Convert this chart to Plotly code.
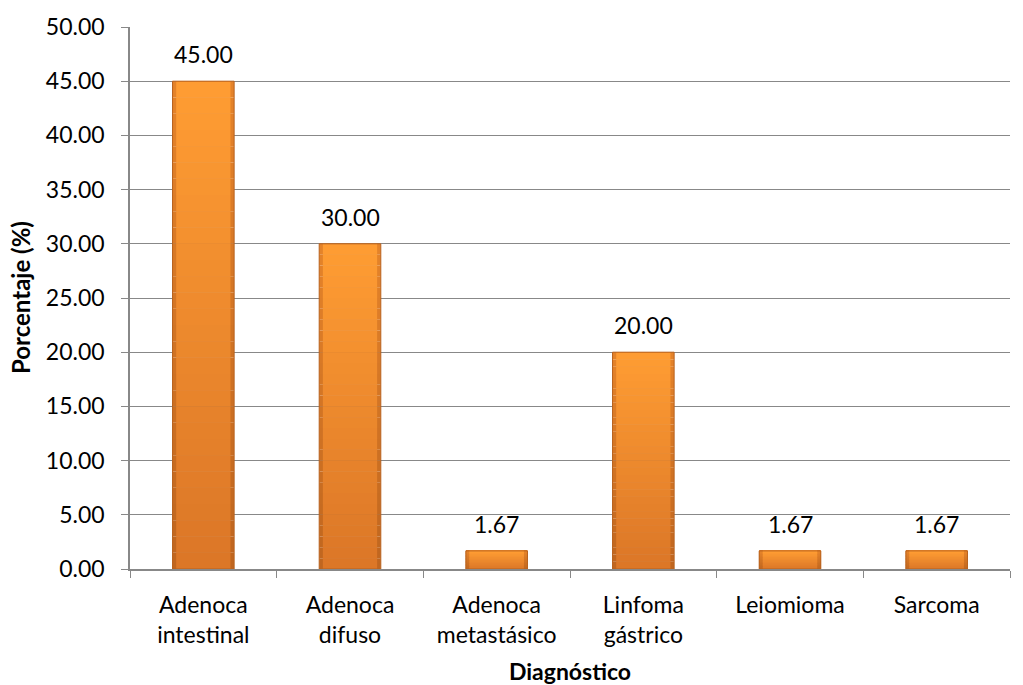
import plotly.graph_objects as go

categories = ["Adenoca<br>intestinal", "Adenoca<br>difuso", "Adenoca<br>metastásico",
              "Linfoma<br>gástrico", "Leiomioma", "Sarcoma"]
porcentajes = [45.00, 30.00, 1.67, 20.00, 1.67, 1.67]
y_ticks = [0, 5, 10, 15, 20, 25, 30, 35, 40, 45, 50]

FONT = "Lato"
BAR_W = 0.42
STEPS = 30


def blend(c1, c2, t):
    a = [int(c1[i:i + 2], 16) for i in (1, 3, 5)]
    b = [int(c2[i:i + 2], 16) for i in (1, 3, 5)]
    return "#" + "".join(f"{round(x + (y - x) * t):02X}" for x, y in zip(a, b))


fig = go.Figure()

# vertical shading: each bar is filled in thin slices, light at the top, darker at the base
for layer, width, top_c, bot_c in [("edge", BAR_W, "#E5842A", "#BF651F"),
                                   ("face", BAR_W - 0.05, "#FF9D33", "#DB7627")]:
    for k in range(STEPS):
        t = (k + 0.5) / STEPS
        fig.add_trace(go.Bar(
            x=categories,
            y=[v / STEPS for v in porcentajes],
            base=[v * k / STEPS for v in porcentajes],
            width=width,
            marker=dict(color=blend(bot_c, top_c, t), line=dict(width=0)),
            showlegend=False, hoverinfo="skip",
        ))

# outline and hover
fig.add_trace(go.Bar(
    x=categories, y=porcentajes, width=BAR_W,
    marker=dict(color="rgba(0,0,0,0)", line=dict(color="#B8621E", width=1)),
    showlegend=False, hovertemplate="%{x}: %{y:.2f}<extra></extra>",
))

for c, v in zip(categories, porcentajes):
    fig.add_annotation(x=c, y=v, text=f"{v:.2f}", showarrow=False,
                       yanchor="bottom", yshift=11,
                       font=dict(family=FONT, size=23, color="#000"))

# y-axis title
fig.add_annotation(x=0, y=0.5, xref="paper", yref="paper", xshift=-110,
                   text="<b>Porcentaje (%)</b>", textangle=-90, showarrow=False,
                   xanchor="center", yanchor="middle",
                   font=dict(family=FONT, size=24, color="#000"))

fig.update_layout(
    width=1023, height=685,
    margin=dict(l=130, r=13, t=27, b=116),
    paper_bgcolor="white", plot_bgcolor="white",
    barmode="overlay",
    xaxis=dict(
        automargin=False,
        showline=True, linecolor="#888", linewidth=1.5,
        ticks="outside", tickson="boundaries", ticklen=7, tickcolor="#888",
        ticklabelstandoff=15,
        tickfont=dict(family=FONT, size=23, color="#000"),
        title=dict(text="<b>Diagnóstico</b>", font=dict(family=FONT, size=23, color="#000"), standoff=22),
    ),
    yaxis=dict(
        automargin=False,
        range=[0, 50], tickvals=y_ticks, ticktext=[f"{t:.2f}" for t in y_ticks],
        showline=True, linecolor="#888", linewidth=1.5,
        ticks="outside", ticklen=7, tickcolor="#888",
        ticklabelstandoff=12,
        gridcolor="#888", gridwidth=1.2,
        tickfont=dict(family=FONT, size=23, color="#000"),
    ),
)

fig.write_html("out.html")
